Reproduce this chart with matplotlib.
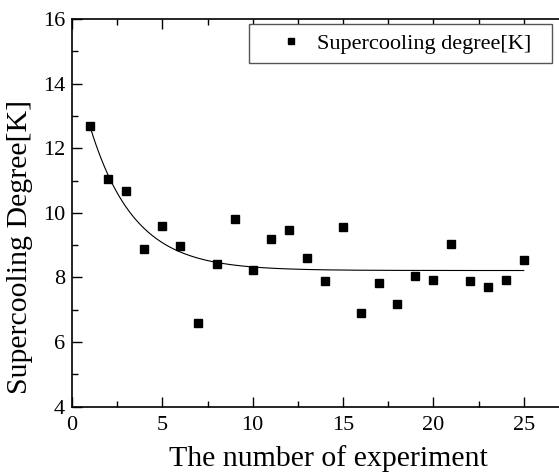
import numpy as np
import matplotlib
matplotlib.use("Agg")
import matplotlib.pyplot as plt
from matplotlib.ticker import MultipleLocator
from matplotlib.patches import Rectangle

# Data
experiment = [1, 2, 3, 4, 5, 6, 7, 8, 9, 10, 11, 12, 13, 14, 15, 16, 17, 18, 19, 20, 21, 22, 23, 24, 25]
supercooling = [12.68, 11.04, 10.68, 8.89, 9.60, 8.97, 6.60, 8.41, 9.81, 8.23, 9.19, 9.47, 8.60, 7.89,
                9.55, 6.91, 7.84, 7.19, 8.05, 7.91, 9.03, 7.90, 7.71, 7.91, 8.53]

xticks = [0, 5, 10, 15, 20, 25]
yticks = [4, 6, 8, 10, 12, 14, 16]

plt.rcParams['font.family'] = ['Liberation Serif', 'DejaVu Serif']

x = np.array(experiment, dtype=float)
y = np.array(supercooling, dtype=float)

# First-order exponential decay fit: y = y0 + A*exp(-x/t)
best = None
for t in np.linspace(0.5, 10, 2000):
    B = np.column_stack([np.ones_like(x), np.exp(-x / t)])
    coef, res, *_ = np.linalg.lstsq(B, y, rcond=None)
    r = np.sum((B @ coef - y) ** 2)
    if best is None or r < best[0]:
        best = (r, t, coef)
_, t_fit, (y0_fit, A_fit) = best
xf = np.linspace(x.min(), x.max(), 300)
yf = y0_fit + A_fit * np.exp(-xf / t_fit)

W, H = 559, 474
fig = plt.figure(figsize=(W / 100, H / 100), dpi=100)
ax = fig.add_axes([72 / W, (H - 406.7) / H, 1 - 72 / W, (406.7 - 19) / H])

ax.plot(x, y, 's', color='black', markersize=5.8, label='Supercooling degree[K]', zorder=3)
ax.plot(xf, yf, '-', color='black', linewidth=0.8)

ax.set_xlim(0, (W - 72) / 18.07)
ax.set_ylim(4, 16)
ax.set_xticks(xticks)
ax.set_yticks(yticks)
ax.xaxis.set_minor_locator(MultipleLocator(2.5))
ax.yaxis.set_minor_locator(MultipleLocator(1))
ax.tick_params(which='both', direction='in', top=True, right=False, labelsize=16, width=1.0)
ax.tick_params(which='major', length=7)
ax.tick_params(which='minor', length=4)
ax.tick_params(axis='x', pad=7)
ax.tick_params(axis='y', pad=5)
ax.spines['right'].set_visible(False)
for s in ['left', 'bottom', 'top']:
    ax.spines[s].set_linewidth(1.2)

ax.set_xlabel('The number of experiment', fontsize=21.5)
ax.set_ylabel('Supercooling Degree[K]', fontsize=21.5)
ax.xaxis.set_label_coords(0.526, -0.099)
ax.yaxis.set_label_coords(-0.080, 0.413)

# Legend box (Origin-style, asymmetric padding)
box = Rectangle((249 / W, 1 - 63.3 / H), (552.3 - 249) / W, (63.3 - 24.3) / H,
                transform=fig.transFigure, facecolor='white', edgecolor='#555555',
                linewidth=1.0, zorder=4)
fig.add_artist(box)
leg = ax.legend(loc='center left', bbox_to_anchor=(280 / W, 1 - 43.8 / H), bbox_transform=fig.transFigure,
                fontsize=16, frameon=False, borderpad=0, borderaxespad=0,
                handlelength=1.0, handletextpad=0.68, markerscale=0.85)
leg.set_zorder(5)
fig.add_artist(leg)

fig.savefig('out.png', dpi=100)
